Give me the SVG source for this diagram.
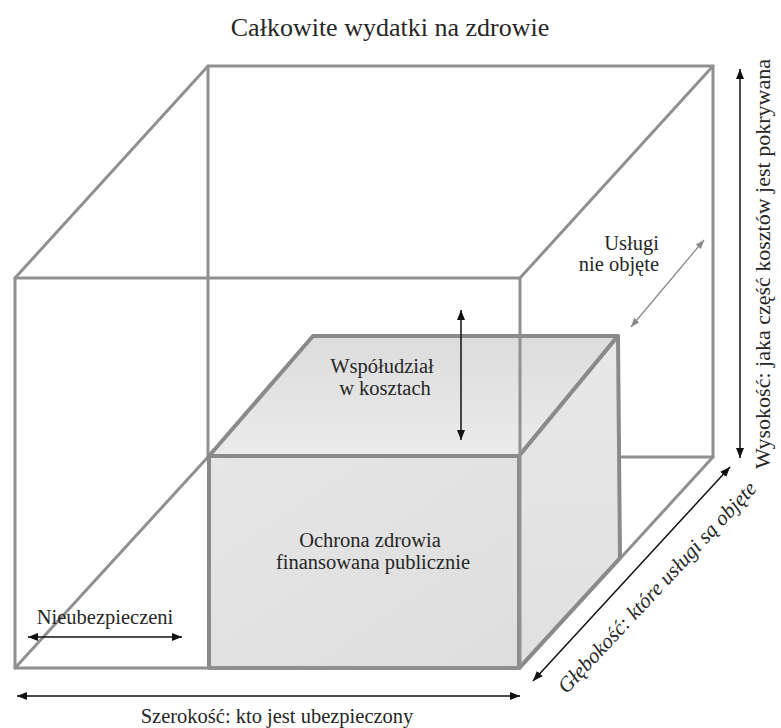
<svg xmlns="http://www.w3.org/2000/svg" width="781" height="728" viewBox="0 0 781 728">
  <style>
    .edge { fill: none; stroke: #909090; stroke-width: 3; stroke-linejoin: round; stroke-linecap: round; }
    .inner { stroke: #8a8a8a; stroke-width: 4; stroke-linejoin: round; }
    .lbl { font-family: "Liberation Serif", "Times New Roman", "DejaVu Serif", serif; font-size: 20.5px; fill: #262626; }
    .arrow { stroke: #111; stroke-width: 1.5; fill: none; marker-start: url(#ah); marker-end: url(#ah); }
    .garrow { stroke: #888; stroke-width: 1.3; fill: none; marker-start: url(#gh); marker-end: url(#gh); }
  </style>
  <defs>
    <marker id="ah" markerUnits="userSpaceOnUse" markerWidth="10" markerHeight="8" refX="10" refY="4" orient="auto-start-reverse">
      <path d="M0,0 L10,4 L0,8 z" fill="#111"/>
    </marker>
    <marker id="gh" markerUnits="userSpaceOnUse" markerWidth="9" markerHeight="7" refX="9" refY="3.5" orient="auto-start-reverse">
      <path d="M0,0 L9,3.5 L0,7 z" fill="#888"/>
    </marker>
    <linearGradient id="gFront" x1="0" y1="0" x2="1" y2="1">
      <stop offset="0" stop-color="#e6e6e6"/>
      <stop offset="1" stop-color="#dedede"/>
    </linearGradient>
    <linearGradient id="gTop" x1="0" y1="0" x2="0" y2="1">
      <stop offset="0" stop-color="#dcdcdc"/>
      <stop offset="1" stop-color="#ebebeb"/>
    </linearGradient>
    <linearGradient id="gSide" x1="0" y1="0" x2="0" y2="1">
      <stop offset="0" stop-color="#e8e8e8"/>
      <stop offset="1" stop-color="#e0e0e0"/>
    </linearGradient>
  </defs>
  <rect width="781" height="728" fill="#ffffff"/>

  <g id="title">
    <text class="lbl" x="390" y="36" text-anchor="middle" style="font-size:26px">Całkowite wydatki na zdrowie</text>
  </g>

  <g id="outer-cube-back">
    <polyline class="edge" points="208,457 208,66 713,66 713,457 208,457"/>
    <line class="edge" x1="15" y1="278" x2="208" y2="66"/>
    <line class="edge" x1="520" y1="278" x2="713" y2="66"/>
    <line class="edge" x1="15" y1="668" x2="208" y2="457"/>
    <line class="edge" x1="520" y1="668" x2="713" y2="457"/>
  </g>

  <g id="inner-box">
    <polygon class="inner" points="209,456 313,336 618,336 519,456" fill="url(#gTop)"/>
    <polygon class="inner" points="519,456 618,336 620,558 519,668" fill="url(#gSide)"/>
    <rect class="inner" x="209" y="456" width="310" height="212" fill="url(#gFront)"/>
  </g>

  <g id="outer-cube-front">
    <rect class="edge" x="15" y="278" width="505" height="390"/>
  </g>

  <g id="label-uslugi">
    <text class="lbl" x="659" y="250" text-anchor="end">Usługi</text>
    <text class="lbl" x="659" y="271" text-anchor="end">nie objęte</text>
  </g>
  <g id="label-wspoludzial">
    <text class="lbl" x="382" y="373" text-anchor="middle">Współudział</text>
    <text class="lbl" x="385" y="395" text-anchor="middle">w kosztach</text>
  </g>
  <g id="label-ochrona">
    <text class="lbl" x="370" y="547" text-anchor="middle">Ochrona zdrowia</text>
    <text class="lbl" x="373" y="569" text-anchor="middle">finansowana publicznie</text>
  </g>
  <g id="label-nieubezpieczeni">
    <text class="lbl" x="105" y="624" text-anchor="middle">Nieubezpieczeni</text>
  </g>
  <g id="label-szerokosc">
    <text class="lbl" x="277" y="723" text-anchor="middle">Szerokość: kto jest ubezpieczony</text>
  </g>
  <g id="label-wysokosc">
    <text class="lbl" transform="translate(770,264) rotate(-90)" text-anchor="middle" style="font-size:22px">Wysokość: jaka część kosztów jest pokrywana</text>
  </g>
  <g id="label-glebokosc">
    <text class="lbl" transform="translate(662,592) rotate(-47)" text-anchor="middle" style="font-style:italic;font-size:21px">Głębokość: które usługi są objęte</text>
  </g>

  <g id="connectors">
    <line class="arrow" x1="740" y1="69" x2="740" y2="458"/>
    <line class="arrow" x1="17" y1="696" x2="520" y2="696"/>
    <line class="arrow" x1="533" y1="681" x2="730" y2="467"/>
    <line class="arrow" x1="28" y1="637" x2="182" y2="637"/>
    <line class="arrow" x1="461" y1="310" x2="461" y2="440"/>
    <line class="garrow" x1="704" y1="240" x2="631" y2="327"/>
  </g>
</svg>
